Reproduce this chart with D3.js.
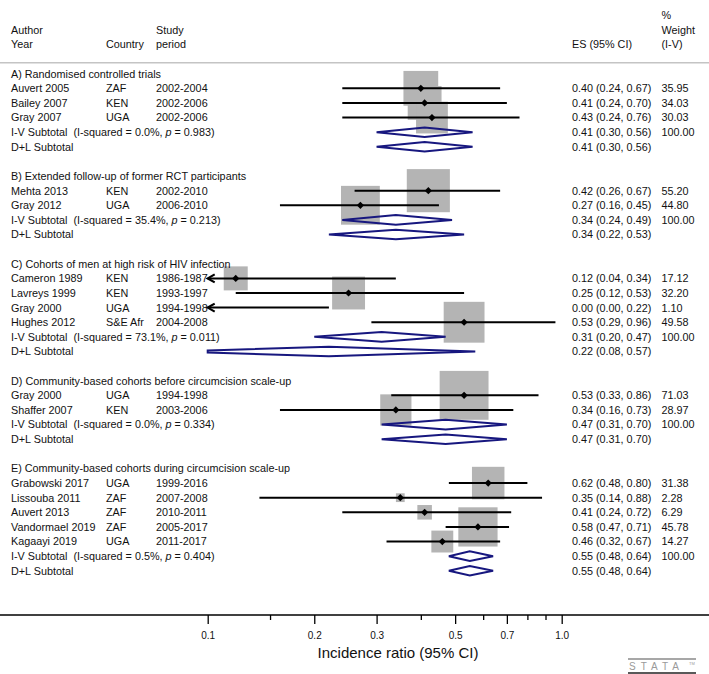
<!DOCTYPE html>
<html>
<head>
<meta charset="utf-8">
<script src="https://cdn.jsdelivr.net/npm/d3@7"></script>
<style>
html,body{margin:0;padding:0;background:#fff;}
svg{display:block;font-family:"Liberation Sans",Arial,Helvetica,sans-serif;}
</style>
</head>
<body>
<svg id="chart" width="709" height="674"></svg>
<script>
// ---------------- DATA ----------------
const sectionTitles = [
  "A) Randomised controlled trials",
  "B) Extended follow-up of former RCT participants",
  "C) Cohorts of men at high risk of HIV infection",
  "D) Community-based cohorts before circumcision scale-up",
  "E) Community-based cohorts during circumcision scale-up"
];
const studyAuthor = ["Auvert 2005","Bailey 2007","Gray 2007",
  "Mehta 2013","Gray 2012",
  "Cameron 1989","Lavreys 1999","Gray 2000","Hughes 2012",
  "Gray 2000","Shaffer 2007",
  "Grabowski 2017","Lissouba 2011","Auvert 2013","Vandormael 2019","Kagaayi 2019"];
const studySection = [0,0,0, 1,1, 2,2,2,2, 3,3, 4,4,4,4,4];
const studyCountry = ["ZAF","KEN","UGA", "KEN","UGA", "KEN","KEN","UGA","S&E Afr", "UGA","KEN", "UGA","ZAF","ZAF","ZAF","UGA"];
const studyPeriod = ["2002-2004","2002-2006","2002-2006",
  "2002-2010","2006-2010",
  "1986-1987","1993-1997","1994-1998","2004-2008",
  "1994-1998","2003-2006",
  "1999-2016","2007-2008","2010-2011","2005-2017","2011-2017"];
const studyES = [0.40,0.41,0.43, 0.42,0.27, 0.12,0.25,0.00,0.53, 0.53,0.34, 0.62,0.35,0.41,0.58,0.46];
const studyLo = [0.24,0.24,0.24, 0.26,0.16, 0.04,0.12,0.00,0.29, 0.33,0.16, 0.48,0.14,0.24,0.47,0.32];
const studyHi = [0.67,0.70,0.76, 0.67,0.45, 0.34,0.53,0.22,0.96, 0.86,0.73, 0.80,0.88,0.72,0.71,0.67];
const studyWeight = [35.95,34.03,30.03, 55.20,44.80, 17.12,32.20,1.10,49.58, 71.03,28.97, 31.38,2.28,6.29,45.78,14.27];

const ivES = [0.41,0.34,0.31,0.47,0.55];
const ivLo = [0.30,0.24,0.20,0.31,0.48];
const ivHi = [0.56,0.49,0.47,0.70,0.64];
const ivI2 = ["0.0%","35.4%","73.1%","0.0%","0.5%"];
const ivP  = ["0.983","0.213","0.011","0.334","0.404"];
const dlES = [0.41,0.34,0.22,0.47,0.55];
const dlLo = [0.30,0.22,0.08,0.31,0.48];
const dlHi = [0.56,0.53,0.57,0.70,0.64];

const axisMajor = [0.1,0.2,0.3,0.5,0.7,1.0];
const axisMinor = [0.15,0.4,0.6,0.8,0.9];
const axisTitle = "Incidence ratio (95% CI)";

// ---------------- BUILD ROWS ----------------
const rows = [];
sectionTitles.forEach((t, s) => {
  if (s > 0) rows.push({type: "blank"});
  rows.push({type: "head", text: t});
  studyAuthor.forEach((a, i) => {
    if (studySection[i] !== s) return;
    rows.push({type: "study", author: a, country: studyCountry[i], period: studyPeriod[i],
      es: studyES[i], lo: studyLo[i], hi: studyHi[i], w: studyWeight[i]});
  });
  rows.push({type: "iv", es: ivES[s], lo: ivLo[s], hi: ivHi[s], i2: ivI2[s], p: ivP[s]});
  rows.push({type: "dl", es: dlES[s], lo: dlLo[s], hi: dlHi[s]});
});

// ---------------- LAYOUT ----------------
const svg = d3.select("#chart");
const W = 709;
const x = d3.scaleLog().domain([0.1, 1.0]).range([207.7, 561.7]);
const xMin = 0.1;
const y = d3.scaleLinear().domain([0, 1]).range([73.7, 73.7 + 14.62]);
const fs = 10.8;
const colAuthor = 11, colCountry = 106, colPeriod = 156, colES = 572, colW = 661.5;
const f2 = d3.format(".2f");
const boxK = 5.8;
const navy = "#17177f";
const txt = "#111";

function text(xp, yp, s, opts = {}) {
  return svg.append("text").attr("x", xp).attr("y", yp)
    .attr("font-size", opts.size || fs).attr("fill", opts.fill || txt)
    .attr("text-anchor", opts.anchor || "start").text(s);
}
const base = 3.9; // baseline offset from row centre

// header
const hdr = [[-4, colW, "%"], [-3, colAuthor, "Author"], [-3, colPeriod, "Study"], [-3, colW, "Weight"],
  [-2, colAuthor, "Year"], [-2, colCountry, "Country"], [-2, colPeriod, "period"], [-2, colES, "ES (95% CI)"], [-2, colW, "(I-V)"]];
hdr.forEach(h => text(h[1], y(h[0]) + base, h[2]));
svg.append("line").attr("x1", 0).attr("x2", W).attr("y1", 62.7).attr("y2", 62.7)
  .attr("stroke", "#c4c4c4").attr("stroke-width", 1.6);

const gBox = svg.append("g");
const gLine = svg.append("g");
const gDia = svg.append("g");

rows.forEach((r, i) => {
  const yc = y(i);
  if (r.type === "head") {
    text(colAuthor, yc + base, r.text);
  } else if (r.type === "study") {
    text(colAuthor, yc + base, r.author);
    text(colCountry, yc + base, r.country);
    text(colPeriod, yc + base, r.period);
    text(colES, yc + base, `${f2(r.es)} (${f2(r.lo)}, ${f2(r.hi)})`);
    text(colW, yc + base, f2(r.w));
    if (r.es >= xMin) {
      const s = boxK * Math.sqrt(r.w);
      gBox.append("rect").attr("x", x(r.es) - s / 2).attr("y", yc - s / 2)
        .attr("width", s).attr("height", s).attr("fill", "#b4b4b4");
    }
    const clipped = r.lo < xMin;
    const x1 = x(Math.max(r.lo, xMin)), x2 = x(r.hi);
    gLine.append("line").attr("x1", x1).attr("x2", x2).attr("y1", yc).attr("y2", yc)
      .attr("stroke", "#000").attr("stroke-width", 2);
    if (clipped) {
      gLine.append("polyline")
        .attr("points", `${x1 + 7},${yc - 4} ${x1},${yc} ${x1 + 7},${yc + 4}`)
        .attr("fill", "none").attr("stroke", "#000").attr("stroke-width", 2.2)
        .attr("stroke-linejoin", "miter");
    }
    if (r.es >= xMin) {
      const d = 3.6, xc = x(r.es);
      gLine.append("path").attr("d", `M${xc - d},${yc}L${xc},${yc - d}L${xc + d},${yc}L${xc},${yc + d}Z`)
        .attr("fill", "#000");
    }
  } else if (r.type === "iv" || r.type === "dl") {
    if (r.type === "iv") {
      const t = text(colAuthor, yc + base, "I-V Subtotal  (I-squared = " + r.i2 + ", ");
      t.attr("xml:space", "preserve").style("white-space", "pre");
      t.append("tspan").attr("font-style", "italic").text("p");
      t.append("tspan").text(" = " + r.p + ")");
      text(colW, yc + base, "100.00");
    } else {
      text(colAuthor, yc + base, "D+L Subtotal");
    }
    text(colES, yc + base, `${f2(r.es)} (${f2(r.lo)}, ${f2(r.hi)})`);
    const h = 4.8;
    const xl = x(r.lo > 0 ? r.lo : xMin), xr = x(r.hi), xc = x(r.es);
    let pts;
    if (r.lo < xMin) {
      const xL = x(xMin);
      const xlTrue = x(r.lo);
      const frac = (xL - xlTrue) / (xc - xlTrue);
      const hh = h * frac;
      pts = [[xL, yc - hh], [xc, yc - h], [xr, yc], [xc, yc + h], [xL, yc + hh]];
    } else {
      pts = [[xl, yc], [xc, yc - h], [xr, yc], [xc, yc + h]];
    }
    gDia.append("polygon").attr("points", pts.map(p => p.join(",")).join(" "))
      .attr("fill", "none").attr("stroke", navy).attr("stroke-width", 2)
      .attr("stroke-linejoin", "miter");
  }
});

// ---------------- AXIS ----------------
const axY = 615;
svg.append("line").attr("x1", 0).attr("x2", W).attr("y1", axY).attr("y2", axY)
  .attr("stroke", "#000").attr("stroke-width", 1.5);
const axG = svg.append("g").attr("transform", `translate(0,${axY})`);
const axisMaj = d3.axisBottom(x).tickValues(axisMajor).tickSize(9).tickPadding(8)
  .tickFormat(d3.format(".1f"));
axG.call(axisMaj);
axG.select(".domain").remove();
axG.selectAll(".tick line").attr("stroke", "#000").attr("stroke-width", 1.3);
axG.selectAll(".tick text").attr("font-size", 10).attr("fill", "#111")
  .attr("font-family", "'Liberation Sans',Arial,sans-serif");
const axG2 = svg.append("g").attr("transform", `translate(0,${axY})`);
axG2.call(d3.axisBottom(x).tickValues(axisMinor).tickSize(5).tickFormat(""));
axG2.select(".domain").remove();
axG2.selectAll(".tick line").attr("stroke", "#000").attr("stroke-width", 1.3);

text(398, 657.5, axisTitle, {size: 15, anchor: "middle"});

// Stata logo
svg.append("line").attr("x1", 628).attr("x2", 696).attr("y1", 659).attr("y2", 659)
  .attr("stroke", "#8a8a8a").attr("stroke-width", 1.5);
svg.append("text").attr("x", 629).attr("y", 670).attr("font-size", 10).attr("fill", "#9a9a9a")
  .attr("letter-spacing", 5).text("STATA");
svg.append("text").attr("x", 689).attr("y", 665).attr("font-size", 4).attr("fill", "#9a9a9a").text("TM");
svg.append("line").attr("x1", 628).attr("x2", 696).attr("y1", 673).attr("y2", 673)
  .attr("stroke", "#222").attr("stroke-width", 1.5);
</script>
</body>
</html>
